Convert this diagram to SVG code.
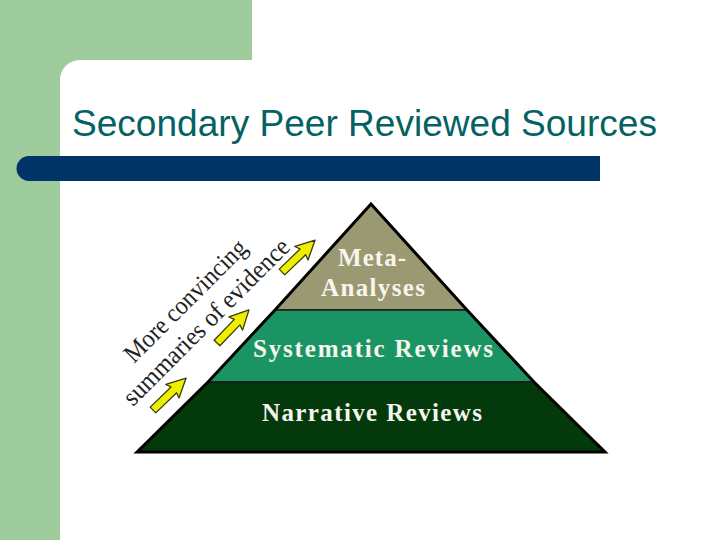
<svg xmlns="http://www.w3.org/2000/svg" width="720" height="540" viewBox="0 0 720 540">
<style>
.band{stroke:#1a1a1a;stroke-width:1.5}
.lbl{font-family:"Liberation Serif","Times New Roman",serif;font-weight:bold;fill:#f6f6ee;text-anchor:middle}
.side{font-family:"Liberation Serif","Times New Roman",serif;fill:#222222}
.arr{fill:#eeee00;stroke:#3a3a10;stroke-width:1.3;stroke-linejoin:round}
</style>
<defs>
<polygon id="arrow" points="0,-4 29,-4 27,-9.5 46,0 27,9.5 29,4 0,4"/>
</defs>
<rect width="720" height="540" fill="#ffffff"/>
<g id="background">
<path d="M0,0 H252 V60 H80 A20,20 0 0 0 60,80 V540 H0 Z" fill="#9ecc9c"/>
<path d="M29,156 H600 V181 H29 A12.5,12.5 0 0 1 29,156 Z" fill="#003366"/>
</g>
<g id="title">
<text x="72" y="136" font-family="'Liberation Sans',Arial,sans-serif" font-size="36.5" fill="#066262" textLength="585" lengthAdjust="spacingAndGlyphs">Secondary Peer Reviewed Sources</text>
</g>
<g id="pyramid">
<g id="meta">
<polygon class="band" points="371,204 467,310 275,310" fill="#9b9972"/>
<text class="lbl" x="372" y="266" font-size="25" textLength="68" lengthAdjust="spacing">Meta-</text>
<text class="lbl" x="373" y="296" font-size="25" textLength="104" lengthAdjust="spacing">Analyses</text>
</g>
<g id="systematic">
<polygon class="band" points="275,310 467,310 534,382 208,382" fill="#1b9463"/>
<text class="lbl" x="373" y="357" font-size="25" textLength="240" lengthAdjust="spacing">Systematic Reviews</text>
</g>
<g id="narrative">
<polygon class="band" points="208,382 534,382 605,452 137,452" fill="#043a0b"/>
<text class="lbl" x="372" y="421" font-size="25" textLength="220" lengthAdjust="spacing">Narrative Reviews</text>
</g>
<path d="M137,452 L208,382 L275,310 L371,204 L467,310 L534,382 L605,452 Z" fill="none" stroke="#000" stroke-width="3" stroke-linejoin="miter"/>
</g>
<g id="side-label">
<text class="side" font-size="26" transform="translate(134,364) rotate(-45)" textLength="162" lengthAdjust="spacingAndGlyphs">More convincing</text>
<text class="side" font-size="26" transform="translate(133,407) rotate(-45)" textLength="224" lengthAdjust="spacingAndGlyphs">summaries of evidence</text>
</g>
<g id="arrows">
<use href="#arrow" class="arr" transform="translate(153,410) rotate(-44)"/>
<use href="#arrow" class="arr" transform="translate(217,343) rotate(-46)"/>
<use href="#arrow" class="arr" transform="translate(282,272) rotate(-44)"/>
</g>
</svg>
